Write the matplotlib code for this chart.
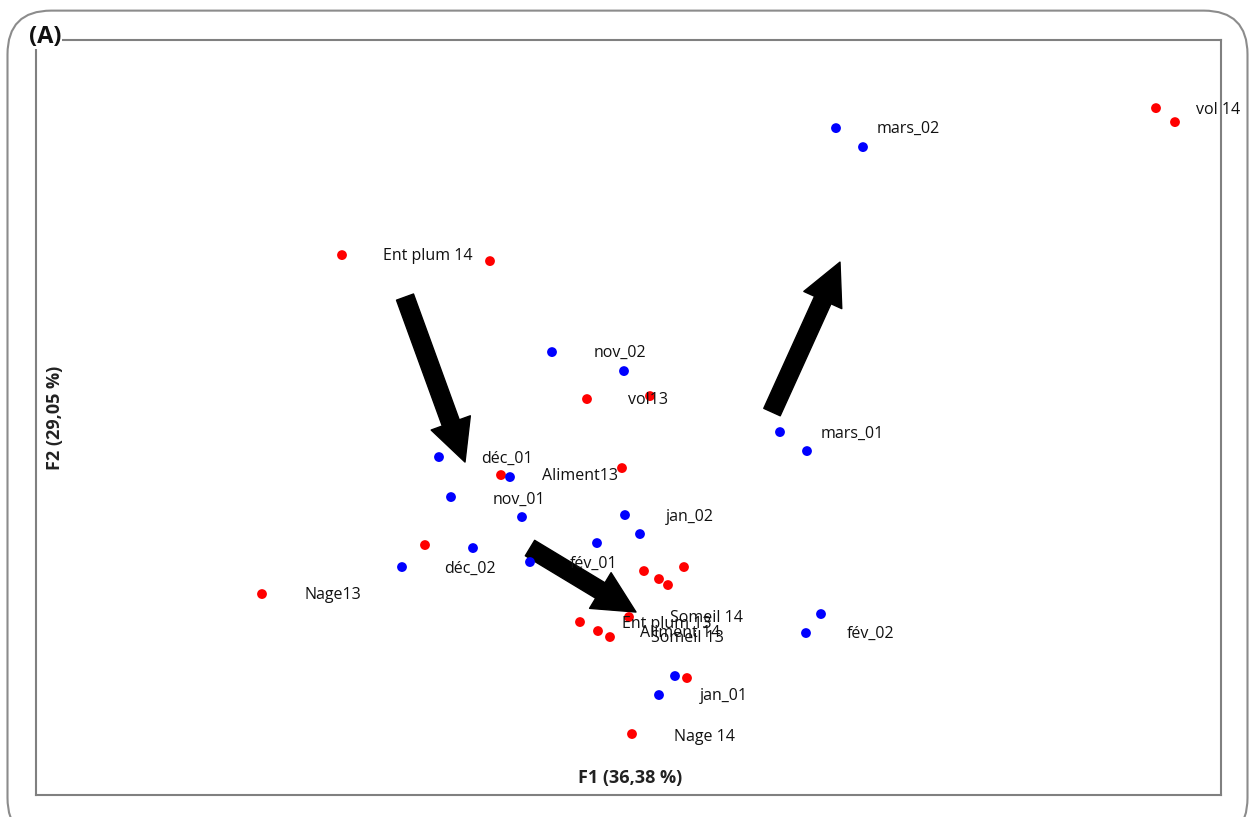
import matplotlib.pyplot as plt
from matplotlib.patches import FancyBboxPatch

plt.rcParams['font.family'] = ['Open Sans', 'DejaVu Sans']

# observations (red) - F1 / F2 scores
red_x = [5.26, 5.45, -2.88, -1.40, -0.43, 0.20, -1.29, -0.08, -2.05, -3.68,
         0.14, 0.29, 0.38, 0.54, -0.01, -0.50, -0.32, -0.20, 0.57, 0.02]
red_y = [3.72, 3.58, 2.25, 2.19, 0.81, 0.84, 0.05, 0.12, -0.65, -1.14,
         -0.91, -0.99, -1.05, -0.87, -1.37, -1.42, -1.51, -1.57, -1.98, -2.54]

# sampling dates (blue)
blue_x = [2.06, 2.33, -0.78, -0.06, 1.50, 1.77, -1.91, -1.20, -1.79, -1.08,
          -0.05, 0.10, -0.33, -2.28, -1.57, -1.00, 1.91, 1.76, 0.45, 0.29]
blue_y = [3.52, 3.33, 1.28, 1.09, 0.48, 0.29, 0.23, 0.03, -0.17, -0.37,
          -0.35, -0.54, -0.63, -0.87, -0.68, -0.82, -1.34, -1.53, -1.96, -2.15]

labels = ["vol 14", "mars_02", "Ent plum 14", "nov_02", "vol13", "mars_01",
          "déc_01", "Aliment13", "nov_01", "jan_02", "déc_02", "fév_01",
          "Nage13", "Someil 14", "Ent plum 13", "Aliment 14", "Someil 13",
          "fév_02", "jan_01", "Nage 14"]
label_x = [5.66, 2.47, -2.47, -0.36, -0.02, 1.91, -1.49, -0.88, -1.37, 0.36,
           -1.86, -0.60, -3.25, 0.40, -0.08, 0.10, 0.21, 2.17, 0.70, 0.44]
label_y = [3.70, 3.51, 2.24, 1.27, 0.80, 0.46, 0.21, 0.04, -0.20, -0.37,
           -0.89, -0.84, -1.15, -1.38, -1.44, -1.53, -1.58, -1.54, -2.16, -2.57]

# trend arrows (tail -> tip)
arrow_tail = [(-2.25, 1.83), (1.42, 0.68), (-1.00, -0.68)]
arrow_tip = [(-1.65, 0.18), (2.10, 2.18), (0.06, -1.32)]

fig = plt.figure(figsize=(12.5, 8.17), dpi=100)

# rounded outer frame
frame = FancyBboxPatch((0.006, -0.03), 0.992, 1.017, boxstyle="round,pad=0,rounding_size=0.035",
                       transform=fig.transFigure, facecolor="none", edgecolor="#8c8c8c",
                       linewidth=1.5, mutation_aspect=1250 / 817, zorder=0)
fig.patches.append(frame)

ax = fig.add_axes([0.0288, 0.0269, 0.948, 0.924])
ax.set_facecolor("none")
ax.set_xlim(-5.94, 5.91)
ax.set_ylim(-3.15, 4.40)
ax.set_xticks([])
ax.set_yticks([])
for s in ax.spines.values():
    s.set_color("#808080")
    s.set_linewidth(1.5)

ax.scatter(red_x, red_y, s=50, color="#ff0000", edgecolors="none", zorder=3)
ax.scatter(blue_x, blue_y, s=50, color="#0000ff", edgecolors="none", zorder=3)

for t, x, y in zip(labels, label_x, label_y):
    ax.text(x, y, t, fontsize=11.5, ha="left", va="center", color="#111111", zorder=4)

for (x0, y0), (x1, y1) in zip(arrow_tail, arrow_tip):
    ax.annotate("", xy=(x1, y1), xytext=(x0, y0),
                arrowprops=dict(arrowstyle="simple,head_length=3.0,head_width=3.0,tail_width=1.3",
                                mutation_scale=10, color="black", shrinkA=0, shrinkB=0),
                zorder=2)

ax.text(0.501, 0.022, "F1 (36,38 %)", transform=ax.transAxes, fontsize=13,
        fontweight="bold", ha="center", va="center", color="#222222")
ax.text(0.016, 0.499, "F2 (29,05 %)", transform=ax.transAxes, fontsize=13,
        fontweight="bold", ha="center", va="center", rotation=90, color="#222222")

fig.text(0.036, 0.955, "(A)", fontsize=17, fontweight="bold", ha="center", va="center",
         color="#111111", bbox=dict(facecolor="white", edgecolor="none", pad=0.5))

fig.savefig("out.png", dpi=100)
